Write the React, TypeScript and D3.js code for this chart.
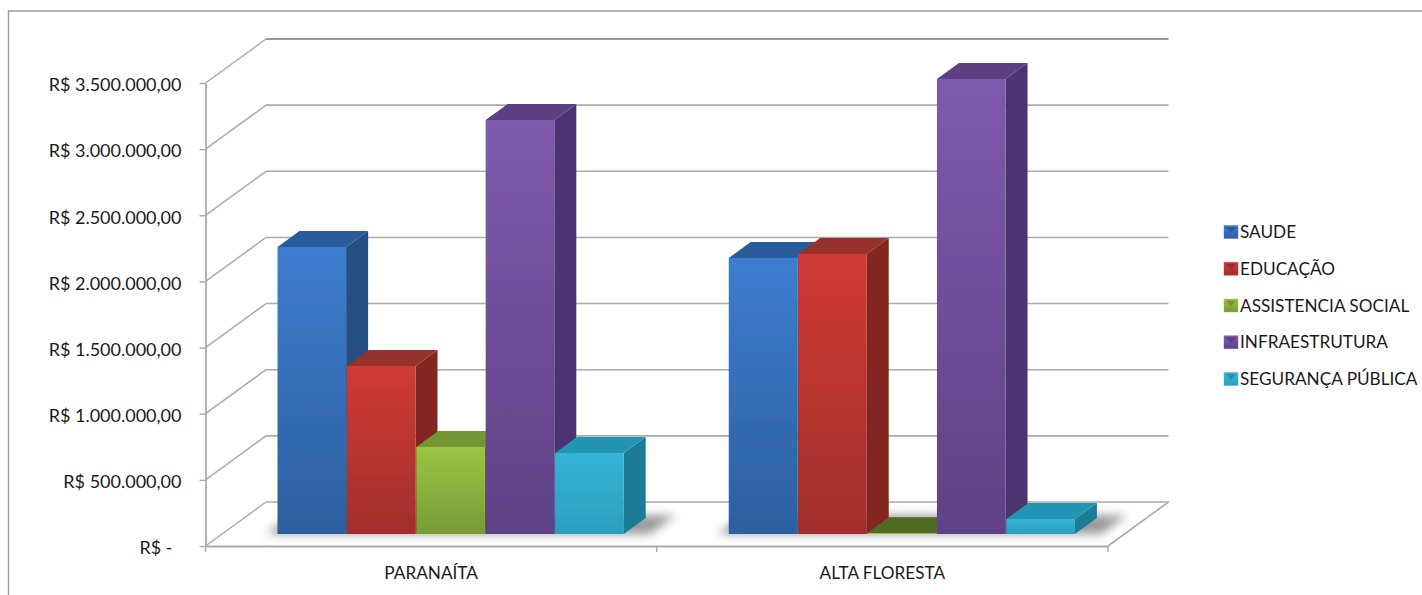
import * as d3 from 'd3';
import React, { useEffect, useRef } from 'react';

const categories = ['PARANAÍTA', 'ALTA FLORESTA'];
const seriesNames = ['SAUDE', 'EDUCAÇÃO', 'ASSISTENCIA SOCIAL', 'INFRAESTRUTURA', 'SEGURANÇA PÚBLICA'];
const paranaitaValues = [2170000, 1270000, 658000, 3130000, 612000];
const altaFlorestaValues = [2087000, 2117000, 5000, 3440000, 113000];
const yTicks = [0, 500000, 1000000, 1500000, 2000000, 2500000, 3000000, 3500000];
const yTickLabels = ['R$ -', 'R$ 500.000,00', 'R$ 1.000.000,00', 'R$ 1.500.000,00', 'R$ 2.000.000,00', 'R$ 2.500.000,00', 'R$ 3.000.000,00', 'R$ 3.500.000,00'];

// front top, front bottom, top face, side face
const colors = [
    ['#3d7dcf', '#2d5f9f', '#2b5b9b', '#254f82'],
    ['#d13b35', '#a02f2b', '#96302b', '#832724'],
    ['#9bc543', '#789a36', '#739633', '#56701f'],
    ['#7f5aab', '#5f4185', '#5b3f82', '#4c3570'],
    ['#35b4d6', '#2a9fc0', '#2394b4', '#1f7b96'],
];

const FONT = 'Lato, "Open Sans", sans-serif';

export default () => {
    const ref = useRef<any>();

    useEffect(() => {
        const width = 1422;
        const height = 595;
        const values = [paranaitaValues, altaFlorestaValues];

        const svg = d3.select<any, any>(ref.current)
            .attr('width', width)
            .attr('height', height)
            .style('position', 'absolute')
            .style('left', 0)
            .style('top', 0)
            .style('font-family', FONT);
        svg.selectAll('*').remove();

        const dims = { left: 205.5, right: 1108, top: 83, bottom: 546, depthX: 60.5, depthY: 44 };

        const xGroup = d3.scaleBand().domain(categories).range([dims.left, dims.right]);
        const xBar = d3.scaleBand().domain(seriesNames).range([55.5, 402.5]);
        const y = d3.scaleLinear().domain([0, 3500000]).range([dims.bottom, dims.top]);

        // 3d projection: d = 0 is the front of the floor, d = 1 the back wall
        const px = (x: number, d: number) => x + dims.depthX * d;
        const py = (v: number, d: number) => y(v) - dims.depthY * d;
        const poly = (pts: number[][]) => pts.map((p) => p.join(',')).join(' ');

        const defs = svg.append('defs');
        defs.append('filter').attr('id', 'soft').attr('x', '-20%').attr('y', '-100%').attr('width', '140%').attr('height', '300%')
            .append('feGaussianBlur').attr('stdDeviation', 5);
        defs.append('filter').attr('id', 'slight')
            .append('feGaussianBlur').attr('stdDeviation', 0.5);
        colors.forEach((c, i) => {
            const g = defs.append('linearGradient').attr('id', `front${i}`).attr('x1', 0).attr('y1', 0).attr('x2', 0).attr('y2', 1);
            g.append('stop').attr('offset', '0%').attr('stop-color', c[0]);
            g.append('stop').attr('offset', '100%').attr('stop-color', c[1]);
        });

        // outer frame of the picture
        svg.append('path')
            .attr('d', `M8.5,595 V11 H${width}`)
            .attr('fill', 'none')
            .attr('stroke', '#9a9a9a')
            .attr('stroke-width', 1.4);

        const walls = svg.append('g').attr('class', 'walls').attr('filter', 'url(#slight)');

        // gridlines along the side wall and the back wall
        yTicks.forEach((t) => {
            walls.append('line')
                .attr('x1', px(dims.left, 0)).attr('y1', py(t, 0))
                .attr('x2', px(dims.left, 1)).attr('y2', py(t, 1))
                .attr('stroke', '#aaa')
                .attr('stroke-width', 1.5);
            walls.append('line')
                .attr('x1', px(dims.left, 1)).attr('y1', py(t, 1))
                .attr('x2', px(dims.right, 1)).attr('y2', py(t, 1))
                .attr('stroke', t === 3500000 ? '#999' : '#aaa')
                .attr('stroke-width', t === 3500000 ? 2.2 : 1.6);
        });
        walls.append('polyline')
            .attr('points', poly([[px(dims.right, 1), py(0, 1)], [px(dims.right, 0), py(0, 0)]]))
            .attr('fill', 'none')
            .attr('stroke', '#aaa')
            .attr('stroke-width', 1.6);

        const yAxis = d3.axisLeft(y)
            .tickValues(yTicks)
            .tickSize(6)
            .tickSizeOuter(0)
            .tickPadding(18)
            .tickFormat((d: any) => yTickLabels[yTicks.indexOf(d)]);
        const xAxis = d3.axisBottom(xGroup).tickSize(0).tickPadding(21);

        const yG = svg.append('g').attr('class', 'y-axis').attr('transform', `translate(${dims.left}, 0)`).call(yAxis as any);
        const xG = svg.append('g').attr('class', 'x-axis').attr('transform', `translate(0, ${dims.bottom})`).call(xAxis as any);

        yG.selectAll('path').attr('stroke', '#aaa').attr('stroke-width', 1.8);
        yG.selectAll('line').attr('stroke', '#aaa').attr('stroke-width', 1.4);
        yG.selectAll('text')
            .attr('font-family', FONT)
            .attr('font-size', 18)
            .attr('fill', '#1a1a1a')
            .attr('y', 2)
            .attr('dx', (d: any) => (d === 0 ? -9 : 0));
        xG.selectAll('path').attr('stroke', '#aaa').attr('stroke-width', 1.8);
        xG.selectAll('text')
            .attr('font-family', FONT)
            .attr('font-size', 17.2)
            .attr('fill', '#1a1a1a');

        // category separators below the floor
        const groupEdges = [dims.left, xGroup(categories[1]) as number, dims.right];
        xG.selectAll('.sep').data(groupEdges).join('line')
            .attr('class', 'sep')
            .attr('x1', (d) => d)
            .attr('x2', (d) => d)
            .attr('y1', 0)
            .attr('y2', 6)
            .attr('stroke', '#aaa')
            .attr('stroke-width', 1.4);

        const d0 = 12 / 44;
        const d1 = 28 / 44;

        categories.forEach((cat, ci) => {
            const g = svg.append('g').attr('class', 'group').attr('filter', 'url(#slight)');
            const x0 = xGroup(cat) as number;

            // soft shadow on the floor
            const sx0 = x0 + 44;
            const sx1 = x0 + 428;
            svg.insert('polygon', '.group')
                .attr('points', poly([[px(sx0, d0), py(0, d0)], [px(sx1, d0), py(0, d0)], [px(sx1, d1 + 0.06), py(0, d1 + 0.06)], [px(sx0, d1 + 0.06), py(0, d1 + 0.06)]]))
                .attr('fill', '#9a9a9a')
                .attr('filter', 'url(#soft)');

            seriesNames.forEach((name, si) => {
                const v = values[ci][si];
                const xa = x0 + (xBar(name) as number);
                const xb = xa + xBar.bandwidth() - 0.8;
                const c = colors[si];
                // a bar that is almost flat shows its top in the darker shade
                const topFill = v < 20000 ? '#4f6a20' : c[2];

                g.append('polygon')
                    .attr('points', poly([[px(xb, d0), py(v, d0)], [px(xb, d1), py(v, d1)], [px(xb, d1), py(0, d1)], [px(xb, d0), py(0, d0)]]))
                    .attr('fill', c[3]);
                g.append('polygon')
                    .attr('points', poly([[px(xa, d0), py(v, d0)], [px(xa, d1), py(v, d1)], [px(xb, d1), py(v, d1)], [px(xb, d0), py(v, d0)]]))
                    .attr('fill', topFill);
                g.append('rect')
                    .attr('x', px(xa, d0))
                    .attr('y', py(v, d0))
                    .attr('width', xb - xa)
                    .attr('height', y(0) - y(v))
                    .attr('fill', `url(#front${si})`);
            });
        });

        // legend
        const legendY = d3.scalePoint().domain(seriesNames).range([232, 379]);
        const legend = svg.append('g').attr('class', 'legend');
        seriesNames.forEach((name, i) => {
            const ly = legendY(name) as number;
            legend.append('rect').attr('x', 1224).attr('y', ly - 6.5).attr('width', 14).attr('height', 13).attr('fill', `url(#front${i})`).attr('stroke', colors[i][0]).attr('stroke-opacity', 0.45);
            legend.append('polygon')
                .attr('points', poly([[1226, ly - 5], [1236, ly - 5], [1231, ly + 1]]))
                .attr('fill', colors[i][2]);
            legend.append('text')
                .attr('x', 1240)
                .attr('y', ly)
                .attr('dy', '0.35em')
                .attr('font-size', 17.2)
                .attr('fill', '#1a1a1a')
                .text(name);
        });
    }, []);

    return <svg ref={ref}></svg>;
};
